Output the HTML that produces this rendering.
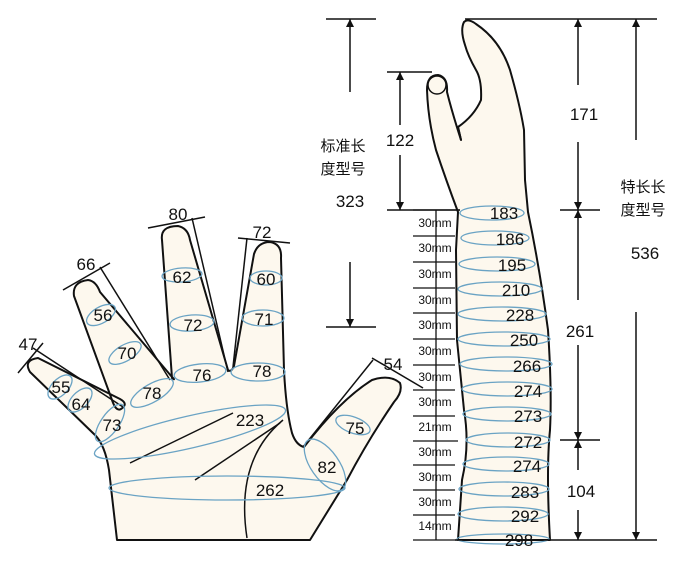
<!DOCTYPE html>
<html><head><meta charset="utf-8"><style>
body{margin:0;background:#fff}
svg{display:block}
text{font-family:"Liberation Sans","Noto Sans CJK SC",sans-serif;fill:#111}
</style></head><body>
<svg width="700" height="566" viewBox="0 0 700 566" xmlns="http://www.w3.org/2000/svg">
<defs>
<marker id="ah" viewBox="0 0 10 10" refX="10" refY="5" markerWidth="8" markerHeight="10" orient="auto-start-reverse" markerUnits="userSpaceOnUse"><path d="M0,0 L10,5 L0,10 Z" fill="#111"/></marker>
</defs>
<g fill="#fdf8ee" stroke="#111" stroke-width="2" stroke-linejoin="round">
<!-- hand -->
<path d="M117,540 L109,470 Q105,445 95,435 L30,372 Q23,360 38,358 L120,399 Q129,404 121,409 Q116,412 112,400 L74,296 Q72,282 88,280 Q96,281 100,292 L172,377 Q176,381 172,378 L162,240 Q160,226 178,226 Q188,228 190,240 L228,370 Q231,373 234,366 L254,254 Q258,242 270,242 Q282,244 281,258 L284,370 Q286,410 292,433 Q296,445 304,447 Q340,400 372,380 Q390,374 400,383 Q403,392 394,402 Q368,440 347,480 L310,540 Z"/>
<!-- arm -->
<path d="M458,540 L462,480 Q470,445 464,410 L457,340 L456,250 L458,212 Q446,180 436,150 Q428,120 427,90 Q427,75 438,75 Q448,77 447,92 Q452,112 461,140 L458,127 Q474,116 481,100 Q482,80 476,70 Q468,56 465,45 Q460,30 464,22 Q468,18 476,24 Q500,40 510,70 Q520,105 524,130 L525,180 L528,212 Q540,270 548,330 Q552,390 550,430 Q546,470 550,540 Z"/>
</g>
<path d="M458,127 L461,140" stroke="#111" stroke-width="2" fill="none"/>
<circle cx="437" cy="85" r="9" fill="#fdf8ee" stroke="#111" stroke-width="1.5"/>
<!-- palm lines -->
<g stroke="#111" stroke-width="1.5" fill="none">
<path d="M130,463 L233,413"/><path d="M195,480 L280,423"/>
<path d="M247,538 Q235,460 283,420"/>
<!-- measurement lines hand -->
<path d="M18,373 L43,343"/><path d="M33,348 L123,407"/>
<path d="M63,290 L110,263"/><path d="M100,267 L170,380"/>
<path d="M148,228 L205,217"/><path d="M192,218 L228,372"/>
<path d="M238,238 L290,243"/><path d="M247,238 L233,367"/>
<path d="M372,358 L423,388"/><path d="M373,360 L303,447"/>
</g>
<!-- blue ellipses hand -->
<g fill="none" stroke="#6aa3c4" stroke-width="1.3">
<ellipse cx="60" cy="387" rx="15" ry="8" transform="rotate(-45 60 387)"/>
<ellipse cx="80" cy="400" rx="15" ry="8" transform="rotate(-45 80 400)"/>
<ellipse cx="110" cy="423" rx="22" ry="9" transform="rotate(-55 110 423)"/>
<ellipse cx="101" cy="315" rx="16" ry="8" transform="rotate(-30 101 315)"/>
<ellipse cx="125" cy="353" rx="18" ry="8" transform="rotate(-30 125 353)"/>
<ellipse cx="152" cy="393" rx="24" ry="9" transform="rotate(-30 152 393)"/>
<ellipse cx="182" cy="275" rx="20" ry="7" transform="rotate(-4 182 275)"/>
<ellipse cx="192" cy="323" rx="22" ry="8" transform="rotate(-4 192 323)"/>
<ellipse cx="200" cy="373" rx="26" ry="9" transform="rotate(-6 200 373)"/>
<ellipse cx="266" cy="278" rx="16" ry="7"/>
<ellipse cx="263" cy="318" rx="21" ry="8"/>
<ellipse cx="258" cy="372" rx="27" ry="9"/>
<ellipse cx="190" cy="432" rx="98" ry="16" transform="rotate(-13 190 432)"/>
<ellipse cx="227" cy="488" rx="118" ry="12"/>
<ellipse cx="325" cy="465" rx="14" ry="30" transform="rotate(-35 325 465)"/>
<ellipse cx="353" cy="425" rx="18" ry="8" transform="rotate(20 353 425)"/>
</g>
<g font-size="17" text-anchor="middle">
<text x="28" y="350">47</text><text x="86" y="270">66</text><text x="178" y="220">80</text><text x="262" y="238">72</text><text x="393" y="370">54</text>
<text x="61" y="393">55</text><text x="81" y="410">64</text><text x="112" y="431">73</text>
<text x="103" y="321">56</text><text x="127" y="359">70</text><text x="152" y="399">78</text>
<text x="182" y="283">62</text><text x="193" y="331">72</text><text x="202" y="381">76</text>
<text x="266" y="285">60</text><text x="264" y="325">71</text><text x="262" y="377">78</text>
<text x="250" y="426">223</text><text x="270" y="496">262</text>
<text x="327" y="473">82</text><text x="355" y="434">75</text>
</g>
<!-- arm rings -->
<g fill="none" stroke="#6aa3c4" stroke-width="1.3">
<ellipse cx="492" cy="213" rx="32" ry="7"/>
<ellipse cx="495" cy="238" rx="34" ry="7"/>
<ellipse cx="497" cy="264" rx="38" ry="7"/>
<ellipse cx="500" cy="289" rx="42" ry="7"/>
<ellipse cx="502" cy="314" rx="44" ry="7"/>
<ellipse cx="504" cy="339" rx="46" ry="7"/>
<ellipse cx="506" cy="364" rx="46" ry="7"/>
<ellipse cx="507" cy="389" rx="45" ry="7"/>
<ellipse cx="507" cy="414" rx="44" ry="7"/>
<ellipse cx="508" cy="440" rx="42" ry="7"/>
<ellipse cx="506" cy="464" rx="43" ry="7"/>
<ellipse cx="504" cy="489" rx="45" ry="7"/>
<ellipse cx="503" cy="514" rx="45" ry="7"/>
<ellipse cx="503" cy="539" rx="46" ry="5"/>
</g>
<g font-size="17" text-anchor="middle">
<text x="504" y="219">183</text><text x="510" y="245">186</text><text x="512" y="271">195</text><text x="516" y="296">210</text><text x="520" y="321">228</text><text x="524" y="346">250</text><text x="527" y="372">266</text><text x="528" y="397">274</text><text x="528" y="422">273</text><text x="528" y="448">272</text><text x="527" y="472">274</text><text x="525" y="498">283</text><text x="525" y="522">292</text><text x="519" y="546">298</text>
</g>
<!-- ruler -->
<g stroke="#111" stroke-width="1.3" fill="none">
<path d="M436,210 V540"/>
<path d="M413,210 H460 M413,236 H455 M413,262 H455 M413,288 H455 M413,313 H455 M413,339 H455 M413,365 H455 M413,390 H455 M413,416 H455 M413,441 H458 M413,465 H455 M413,490 H455 M413,515 H455 M413,540 H458"/>
</g>
<g font-size="12" text-anchor="middle">
<text x="435" y="227">30mm</text><text x="435" y="252">30mm</text><text x="435" y="278">30mm</text><text x="435" y="304">30mm</text><text x="435" y="329">30mm</text><text x="435" y="355">30mm</text><text x="435" y="381">30mm</text><text x="435" y="406">30mm</text><text x="435" y="431">21mm</text><text x="435" y="456">30mm</text><text x="435" y="481">30mm</text><text x="435" y="506">30mm</text><text x="435" y="530">14mm</text>
</g>
<!-- dimension lines -->
<g stroke="#111" stroke-width="1.5" fill="none">
<path d="M326,19 H376"/><path d="M326,327 H376"/>
<path d="M350,92 V19" marker-end="url(#ah)"/><path d="M350,262 V327" marker-end="url(#ah)"/>
<path d="M387,72 H432"/><path d="M387,210 H460"/>
<path d="M400,125 V72" marker-end="url(#ah)"/><path d="M400,155 V210" marker-end="url(#ah)"/>
<path d="M465,19 H657"/><path d="M455,540 H657"/>
<path d="M560,210 H600"/><path d="M560,440 H600"/>
<path d="M578,85 V19" marker-end="url(#ah)"/><path d="M578,142 V210" marker-end="url(#ah)"/>
<path d="M578,300 V210" marker-end="url(#ah)"/><path d="M578,345 V440" marker-end="url(#ah)"/>
<path d="M578,470 V440" marker-end="url(#ah)"/><path d="M578,510 V540" marker-end="url(#ah)"/>
<path d="M636,140 V19" marker-end="url(#ah)"/><path d="M636,312 V540" marker-end="url(#ah)"/>
</g>
<g font-size="17" text-anchor="middle">
<text x="400" y="146">122</text><text x="350" y="207">323</text>
<text x="584" y="120">171</text><text x="580" y="337">261</text><text x="581" y="497">104</text><text x="645" y="259">536</text>
</g>
<g font-size="15" text-anchor="middle">
<text x="343" y="151">标准长</text><text x="343" y="174">度型号</text>
<text x="643" y="192">特长长</text><text x="643" y="215">度型号</text>
</g>
</svg>
</body></html>
